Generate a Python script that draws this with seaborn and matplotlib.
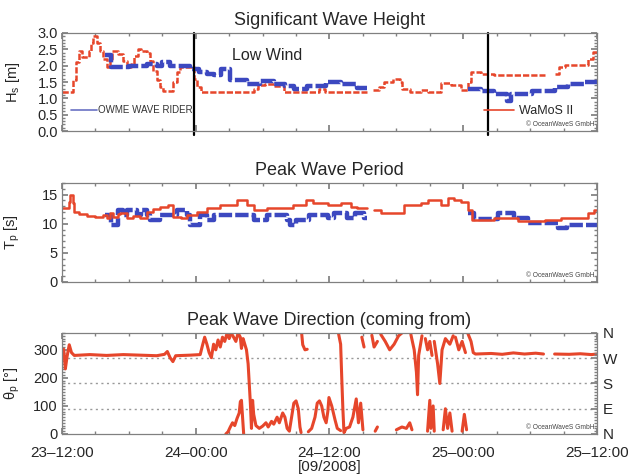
import numpy as np
import pandas as pd
import matplotlib
matplotlib.use("Agg")
import matplotlib.pyplot as plt
import seaborn as sns
from matplotlib.ticker import MultipleLocator, FormatStrFormatter
from matplotlib.lines import Line2D

# time axis: hours after 23 Sep 2008 12:00
nan = np.nan

# significant wave height, WaMoS II (red) and OWME wave rider buoy (blue)
hs_wamos_t = [0.0, 1.0, 1.3, 1.5, 1.8, 2.4, 2.6, 2.8, 3.1, 3.4, 3.7, 4.0, 4.3, 4.5,
              5.0, 5.5, 5.8, 6.2, 6.5, 6.8, 7.1, 7.6, 7.9, 8.2, 8.5, 8.8, 9.1, 10.0,
              10.3, 10.6, 11.8, 12.1, 12.5, 17.2, 17.6, 18.2, 19.0, 19.9, 23.1, 23.6,
              27.4, 27.4,
              27.9, 28.4, 28.9, 29.7, 30.3, 30.5, 31.2, 32.2, 32.8, 34.0, 34.9, 35.8,
              36.4, 36.7, 37.6, 38.8, 43.3, 43.3,
              44.2, 44.6, 45.1, 47.2, 47.6, 48.0]
hs_wamos = [1.2, 1.55, 2.1, 2.45, 2.25, 2.45, 2.7, 2.9, 2.7, 2.45, 2.2, 1.97, 2.2, 2.45,
            2.35, 2.15, 1.97, 2.05, 2.3, 2.5, 2.45, 2.38, 2.15, 1.85, 1.55, 1.35, 1.22, 1.5,
            1.8, 1.97, 1.6, 1.35, 1.2, 1.3, 1.4, 1.45, 1.38, 1.2, 1.3, 1.2,
            1.2, nan,
            1.25, 1.35, 1.5, 1.6, 1.5, 1.3, 1.2, 1.27, 1.2, 1.48, 1.41, 1.25,
            1.5, 1.8, 1.76, 1.72, 1.72, nan,
            1.75, 1.95, 2.02, 2.2, 2.43, 2.43]
hs_buoy_t = [3.9, 4.4, 6.0, 7.6, 8.5, 9.0, 9.7, 11.5, 12.3, 13.0, 13.6, 14.3, 15.1, 16.6,
             17.8, 19.0, 20.0, 20.8, 22.0, 23.7, 25.0, 26.5, 27.4, 27.4,
             36.4, 37.6, 38.8, 39.9, 40.3, 42.2, 44.2, 45.4, 46.9, 48.0]
hs_buoy = [2.32, 1.97, 2.0, 2.05, 2.0, 2.1, 1.98, 1.9, 1.82, 1.75, 1.7, 1.89, 1.55, 1.45,
           1.52, 1.45, 1.38, 1.28, 1.38, 1.5, 1.45, 1.33, 1.33, nan,
           1.28, 1.22, 1.13, 0.93, 1.13, 1.22, 1.35, 1.45, 1.5, 1.5]

# peak wave period
tp_wamos_t = [0.0, 0.6, 0.75, 0.95, 1.1, 1.5, 2.2, 3.0, 3.7, 4.0, 4.3, 4.6, 5.0, 5.2,
              5.8, 6.4, 7.0, 7.6, 8.2, 8.8, 9.5, 10.0, 10.7, 11.2, 12.1, 13.0, 14.2,
              15.7, 16.6, 17.2, 18.4, 20.7, 21.9, 22.5, 23.9, 25.0, 25.9, 26.5, 27.4, 27.4,
              28.0, 28.6, 30.7, 32.2, 32.8, 34.0, 34.6, 35.2, 35.8, 36.4, 36.8, 38.8,
              40.9, 43.3, 44.8, 47.2, 47.7, 48.0]
tp_wamos = [12.7, 13.8, 15.0, 13.5, 12.1, 11.6, 11.3, 11.1, 11.5, 11.0, 11.8, 11.2, 11.6, 11.9,
            11.0, 11.3, 10.9, 12.1, 12.5, 12.9, 13.2, 11.2, 11.0, 11.5, 12.1, 12.7, 13.2,
            14.1, 13.2, 12.4, 12.7, 13.2, 14.1, 13.5, 13.2, 13.5, 12.9, 12.7, 12.7, nan,
            12.4, 11.8, 13.2, 13.5, 14.1, 13.2, 14.4, 14.1, 13.8, 12.4, 10.6, 10.9,
            10.4, 10.6, 10.9, 11.8, 12.3, 12.3]
tp_buoy_t = [3.9, 4.4, 5.0, 5.5, 5.8, 6.7, 7.1, 7.6, 7.9, 8.8, 10.3, 11.2, 11.5, 12.4,
             13.0, 13.6, 17.2, 18.4, 20.2, 20.5, 21.0, 22.2, 23.9, 24.4, 25.6, 26.3,
             27.1, 27.4, 27.4,
             36.4, 37.0, 39.1, 40.6, 41.8, 44.5, 45.3, 48.0]
tp_buoy = [11.5, 9.8, 12.4, 11.5, 12.4, 11.5, 12.4, 11.5, 10.7, 11.5, 12.4, 11.5, 9.8, 11.5,
           10.7, 11.5, 10.7, 11.5, 10.7, 9.8, 10.7, 11.5, 10.9, 11.8, 10.9, 11.8,
           10.9, 10.9, nan,
           11.8, 10.8, 11.8, 10.9, 10.2, 9.3, 9.8, 9.8]

# peak wave direction (WaMoS II), nan = break in the trace
dir_t = [0.0, 0.15, 0.3, 0.45, 0.65, 0.85, 1.1, 2.5, 4.0, 5.5, 7.0, 8.5, 9.2, 9.45, 9.7,
         9.95, 10.2, 11.5, 12.4, 12.6, 12.8, 13.0, 13.2, 13.4, 13.6, 13.8, 14.0, 14.2,
         14.4, 14.6, 14.8, 15.0, 15.2, 15.2,
         15.3, 15.6, 15.8, 16.0, 16.1, 16.25, 16.4, 16.55, 16.7, 16.8, 16.9, 17.0, 17.1,
         17.2, 17.4, 17.7, 18.0, 18.3, 18.5, 18.8, 19.0, 19.3, 19.5, 19.8, 20.0, 20.2,
         20.4, 20.6, 20.8, 21.0, 21.2, 21.35, 21.45, 21.45,
         14.7, 14.9, 15.1, 15.3, 15.5, 15.7, 15.9, 16.0, 16.1, 16.2, 16.3, 16.3,
         21.5, 21.6, 21.8, 22.0, 22.0,
         22.1, 22.4, 22.7, 22.9, 23.1, 23.3, 23.5, 23.7, 23.85, 23.95, 24.2, 24.5, 24.7,
         25.0, 25.0,
         24.8, 25.0, 25.1, 25.2, 25.3, 25.5, 25.8, 26.1, 26.4, 26.6, 26.8, 27.0, 27.0,
         26.9, 27.1, 27.1,
         27.8, 28.0, 28.3, 28.3,
         28.1, 28.3, 28.3,
         28.6, 29.0, 29.4, 29.8, 30.2, 30.5, 30.5,
         30.0, 30.5, 30.9, 31.2, 31.4, 31.4,
         31.3, 31.6, 31.8, 31.9, 32.0, 32.3, 32.3,
         32.6, 32.8, 33.0, 33.2, 33.2,
         32.8, 33.0, 33.1, 33.3, 33.4, 33.4,
         33.4, 33.7, 33.9, 34.1, 34.4, 34.8, 35.1, 35.1,
         34.2, 34.4, 34.6, 34.8, 35.0, 35.0,
         35.3, 35.6, 35.9, 36.2, 36.2,
         35.9, 36.1, 36.3, 36.3,
         36.4, 36.7, 36.9, 37.1, 38.5, 39.5, 40.5, 41.5, 42.5, 43.2, 43.2,
         44.2, 45.5, 46.5, 47.5, 48.0]
dir_v = [295, 302, 232, 275, 318, 290, 280, 283, 280, 283, 281, 279, 284, 294, 272,
         258, 279, 281, 283, 315, 345, 320, 290, 272, 320, 300, 335, 310,
         345, 330, 358, 340, 360, nan,
         352, 330, 360, 345, 305, 340, 320, 300, 250, 180, 110, 20, 120,
         70, 30, 20, 28, 40, 25, 45, 35, 60, 40, 75, 60, 20,
         10, 60, 110, 118, 90, 25, 5, nan,
         0, 8, 25, 40, 30, 55, 75, 115, 120, 60, 0, nan,
         360, 318, 300, 302, nan,
         8, 20, 60, 110, 118, 100, 60, 40, 80, 130, 100, 50, 20,
         12, nan,
         360, 320, 200, 90, 5, 20, 25, 60, 125, 40, 110, 15, nan,
         345, 310, nan,
         352, 310, 330, nan,
         10, 25, nan,
         355, 330, 300, 320, 350, 360, nan,
         15, 25, 20, 40, 15, nan,
         355, 300, 220, 140, 280, 350, nan,
         340, 300, 330, 280, nan,
         10, 120, 20, 100, 10, nan,
         330, 250, 180, 300, 340, 320, 350, nan,
         15, 90, 20, 75, 10, nan,
         345, 300, 330, 290, nan,
         10, 70, 15, nan,
         360, 330, 290, 285, 287, 284, 289, 285, 288, 285, nan,
         285, 284, 286, 283, 285]

time_ticks = [0, 12, 24, 36, 48]
time_labels = ["23\u201312:00", "24\u201300:00", "24\u201312:00", "25\u201300:00", "25\u201312:00"]
low_wind_marks = [11.8, 38.2]
compass_deg = [0, 90, 180, 270, 360]
compass = ["N", "E", "S", "W", "N"]

red = "#e6462b"
blue = "#3c48c0"
frame = "#808080"


def to_frame(t, v):
    t = np.asarray(t, float)
    v = np.asarray(v, float)
    gap = np.isnan(v)
    df = pd.DataFrame({"t": t, "v": v, "seg": np.cumsum(gap)})
    return df[~gap]


sns.set_theme(style="ticks")
plt.rcParams["font.family"] = ["Liberation Sans", "DejaVu Sans"]
plt.rcParams["mathtext.default"] = "regular"

fig = plt.figure(figsize=(6.34, 4.74), dpi=100)
ax1 = fig.add_axes([0.0978, 0.7236, 0.8438, 0.2068])
ax2 = fig.add_axes([0.0978, 0.4051, 0.8438, 0.2089])
ax3 = fig.add_axes([0.0978, 0.0844, 0.8438, 0.2131])


def style_axes(ax):
    ax.set_xlim(0, 48)
    ax.set_xticks(time_ticks)
    ax.xaxis.set_minor_locator(MultipleLocator(3))
    ax.tick_params(which="both", direction="in", top=True, right=True,
                   color=frame, labelsize=10.5, pad=3)
    ax.tick_params(which="major", length=4)
    ax.tick_params(which="minor", length=2)
    for s in ax.spines.values():
        s.set_color(frame)
        s.set_linewidth(0.9)
    ax.set_xlabel("")
    ax.text(0.995, 0.03, "\u00a9 OceanWaveS GmbH", transform=ax.transAxes,
            ha="right", va="bottom", fontsize=4.8, color="#444444")


# ---- significant wave height
sns.lineplot(data=to_frame(hs_wamos_t, hs_wamos), x="t", y="v", units="seg",
             estimator=None, sort=False, color=red, lw=1.8, ls=(0, (2.5, 0.8)),
             drawstyle="steps-post", ax=ax1, legend=False)
sns.lineplot(data=to_frame(hs_buoy_t, hs_buoy), x="t", y="v", units="seg",
             estimator=None, sort=False, color=blue, lw=3.2, ls=(0, (3, 0.7)),
             drawstyle="steps-post", ax=ax1, legend=False)
for t in low_wind_marks:
    ax1.axvline(t, ymin=-0.04, ymax=1, color="black", lw=1.6, clip_on=False)
ax1.text(18.4, 2.32, "Low Wind", ha="center", va="center", fontsize=11.5)
ax1.set_ylim(0, 3.0)
ax1.yaxis.set_major_locator(MultipleLocator(0.5))
ax1.yaxis.set_minor_locator(MultipleLocator(0.1))
ax1.yaxis.set_major_formatter(FormatStrFormatter("%.1f"))
ax1.set_ylabel(r"H$_{s}$ [m]", fontsize=10.5)
ax1.set_title("Significant Wave Height", fontsize=13, pad=6)
leg1 = ax1.legend(handles=[Line2D([], [], color="#6a72c4", lw=1.2)],
                  labels=["OWME WAVE RIDER"], loc="center left",
                  bbox_to_anchor=(0.005, 0.21), frameon=False, fontsize=7,
                  handlelength=2.6, handletextpad=0.1, borderaxespad=0.3)
for txt in leg1.get_texts():
    txt.set_color("#333333")
ax1.add_artist(leg1)
ax1.legend(handles=[Line2D([], [], color=red, lw=1.2)], labels=["WaMoS II"],
           loc="center left", bbox_to_anchor=(0.773, 0.2), frameon=False,
           fontsize=9, handlelength=2.4, handletextpad=0.35, borderaxespad=0.3)
style_axes(ax1)
ax1.set_xticklabels([])

# ---- peak wave period
sns.lineplot(data=to_frame(tp_wamos_t, tp_wamos), x="t", y="v", units="seg",
             estimator=None, sort=False, color=red, lw=1.8,
             drawstyle="steps-post", ax=ax2, legend=False)
sns.lineplot(data=to_frame(tp_buoy_t, tp_buoy), x="t", y="v", units="seg",
             estimator=None, sort=False, color=blue, lw=3.2, ls=(0, (3, 0.7)),
             drawstyle="steps-post", ax=ax2, legend=False, zorder=1)
ax2.set_ylim(0, 17)
ax2.yaxis.set_major_locator(MultipleLocator(5))
ax2.yaxis.set_minor_locator(MultipleLocator(1))
ax2.set_ylabel(r"T$_{p}$ [s]", fontsize=10.5)
ax2.set_title("Peak Wave Period", fontsize=13, pad=6)
style_axes(ax2)
ax2.set_xticklabels([])

# ---- peak wave direction
for d in compass_deg[1:-1]:
    ax3.axhline(d, color="#999999", ls=(0, (1.5, 2.5)), lw=1)
sns.lineplot(data=to_frame(dir_t, dir_v), x="t", y="v", units="seg",
             estimator=None, sort=False, color=red, lw=2.2, ax=ax3, legend=False)
ax3.set_ylim(0, 360)
ax3.yaxis.set_major_locator(MultipleLocator(100))
ax3.yaxis.set_minor_locator(MultipleLocator(10))
ax3.set_ylabel("\u03b8$_{p}$ [\u00b0]", fontsize=10.5)
ax3.set_title("Peak Wave Direction (coming from)", fontsize=13, pad=6)
style_axes(ax3)
ax3.tick_params(axis="x", pad=9)
ax3.set_xticklabels(time_labels, fontsize=11)
ax3.set_xlabel("[09/2008]", fontsize=11, labelpad=0)

comp = ax3.twinx()
comp.set_ylim(0, 360)
comp.set_yticks(compass_deg)
comp.set_yticklabels(compass, fontsize=11)
comp.yaxis.set_minor_locator(MultipleLocator(10))
comp.tick_params(which="both", direction="in", color=frame, pad=4)
comp.tick_params(which="major", length=4)
comp.tick_params(which="minor", length=2)
for s in comp.spines.values():
    s.set_visible(False)

for ax in (ax1, ax2, ax3):
    ax.yaxis.set_label_coords(-0.075, 0.5)

fig.savefig("out.png", dpi=100)
